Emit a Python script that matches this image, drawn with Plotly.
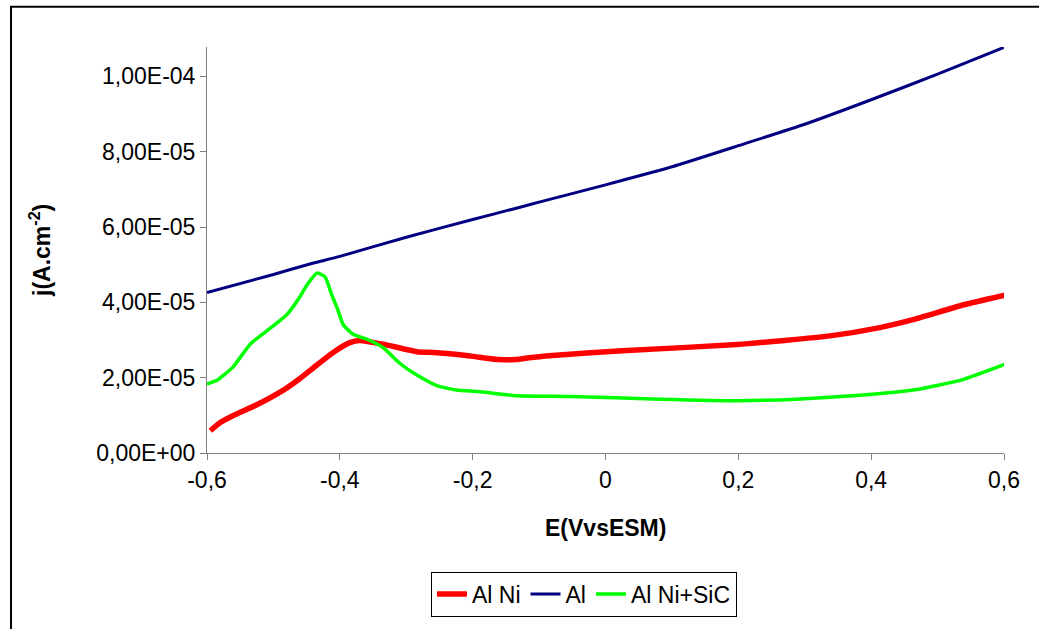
import plotly.graph_objects as go

# Al (blue)
E_al = [-0.6, -0.5, -0.445, -0.4, -0.3, -0.2, -0.13, -0.1, 0.0, 0.1, 0.2, 0.3, 0.4, 0.5, 0.6]
j_al = [42.6e-6, 47.4e-6, 50.2e-6, 52.2e-6, 57.3e-6, 62.0e-6, 65.2e-6, 66.6e-6, 71.2e-6,
        76.0e-6, 81.6e-6, 87.3e-6, 93.8e-6, 100.6e-6, 107.7e-6]

# Al Ni (red)
E_alni = [-0.595, -0.58, -0.561, -0.525, -0.485, -0.46, -0.435, -0.41, -0.385, -0.37,
          -0.335, -0.284, -0.259, -0.219, -0.189, -0.16, -0.135, -0.115, -0.08, 0.032, 0.198,
          0.338, 0.413, 0.463, 0.538, 0.601]
j_alni = [5.9e-6, 8.1e-6, 9.9e-6, 12.8e-6, 16.7e-6, 19.8e-6, 23.3e-6, 26.7e-6, 29.3e-6, 29.9e-6,
          28.9e-6, 26.9e-6, 26.7e-6, 26.1e-6, 25.4e-6, 24.8e-6, 24.8e-6, 25.3e-6, 25.9e-6, 27.2e-6, 28.8e-6,
          31.1e-6, 33.3e-6, 35.4e-6, 39.3e-6, 41.9e-6]

# Al Ni+SiC (green)
E_sic = [-0.6, -0.585, -0.561, -0.535, -0.51, -0.48, -0.46, -0.45, -0.434, -0.422,
         -0.412, -0.404, -0.395, -0.38, -0.359, -0.335, -0.309, -0.284, -0.254, -0.224,
         -0.192, -0.133, -0.053, 0.082, 0.198, 0.288, 0.388, 0.463, 0.538, 0.601]
j_sic = [18.3e-6, 19.3e-6, 22.8e-6, 28.9e-6, 32.4e-6, 36.7e-6, 41.5e-6, 44.5e-6, 47.8e-6, 46.7e-6,
         41.9e-6, 38.5e-6, 34.1e-6, 31.5e-6, 30.2e-6, 28.0e-6, 23.7e-6, 20.7e-6, 17.9e-6, 16.7e-6,
         16.3e-6, 15.2e-6, 15.0e-6, 14.3e-6, 13.9e-6, 14.3e-6, 15.4e-6, 16.7e-6, 19.5e-6, 23.5e-6]

x_ticks = [-0.6, -0.4, -0.2, 0.0, 0.2, 0.4, 0.6]
x_ticklabels = ["-0,6", "-0,4", "-0,2", "0", "0,2", "0,4", "0,6"]
y_ticks = [0, 2e-5, 4e-5, 6e-5, 8e-5, 1e-4]
y_ticklabels = ["0,00E+00", "2,00E-05", "4,00E-05", "6,00E-05", "8,00E-05", "1,00E-04"]

FONT = "Liberation Sans, Arial, sans-serif"
FS = 23

fig = go.Figure()
fig.add_trace(go.Scatter(x=E_alni, y=j_alni, mode="lines", name="Al Ni",
                         line=dict(color="#FF0000", width=5.5, shape="spline", smoothing=0.5)))
fig.add_trace(go.Scatter(x=E_al, y=j_al, mode="lines", name="Al",
                         line=dict(color="#000080", width=3, shape="spline", smoothing=0.5)))
fig.add_trace(go.Scatter(x=E_sic, y=j_sic, mode="lines", name="Al Ni+SiC",
                         line=dict(color="#00FF00", width=3.5, shape="spline", smoothing=0.5)))

fig.update_layout(
    width=1039, height=629,
    margin=dict(l=207, r=35, t=47, b=168),
    paper_bgcolor="white", plot_bgcolor="white",
    font=dict(family=FONT, size=FS, color="black"),
    showlegend=True,
    legend=dict(orientation="h", x=0.281, y=-0.292, xanchor="left", yanchor="top",
                bordercolor="black", borderwidth=1, bgcolor="white",
                font=dict(family=FONT, size=FS), itemwidth=30),
    xaxis=dict(range=[-0.6, 0.6], tickvals=x_ticks, ticktext=x_ticklabels,
               showgrid=False, zeroline=False, showline=True, linecolor="#808080", linewidth=1,
               ticks="outside", ticklen=6, tickcolor="#808080", tickfont=dict(size=FS)),
    yaxis=dict(range=[0, 1.078e-4], tickvals=y_ticks, ticktext=y_ticklabels,
               showgrid=False, zeroline=False, showline=True, linecolor="#808080", linewidth=1,
               ticks="outside", ticklen=6, tickcolor="#808080", tickfont=dict(size=FS)),
    annotations=[
        dict(text="<b>E(VvsESM)</b>", xref="paper", yref="paper", x=0.4994, y=-0.1836,
             showarrow=False, xanchor="center", yanchor="middle", font=dict(size=FS)),
        dict(text="<b>j(A.cm<sup>-2</sup>)</b>", xref="paper", yref="paper", x=-0.2095, y=0.4976,
             showarrow=False, xanchor="center", yanchor="middle", textangle=-90, font=dict(size=FS)),
    ],
    shapes=[dict(type="rect", xref="paper", yref="paper", x0=-0.2459, y0=-0.45, x1=1.06, y1=1.099,
                 line=dict(color="black", width=2), fillcolor="rgba(0,0,0,0)", layer="below")],
)

fig.write_html("out.html")
